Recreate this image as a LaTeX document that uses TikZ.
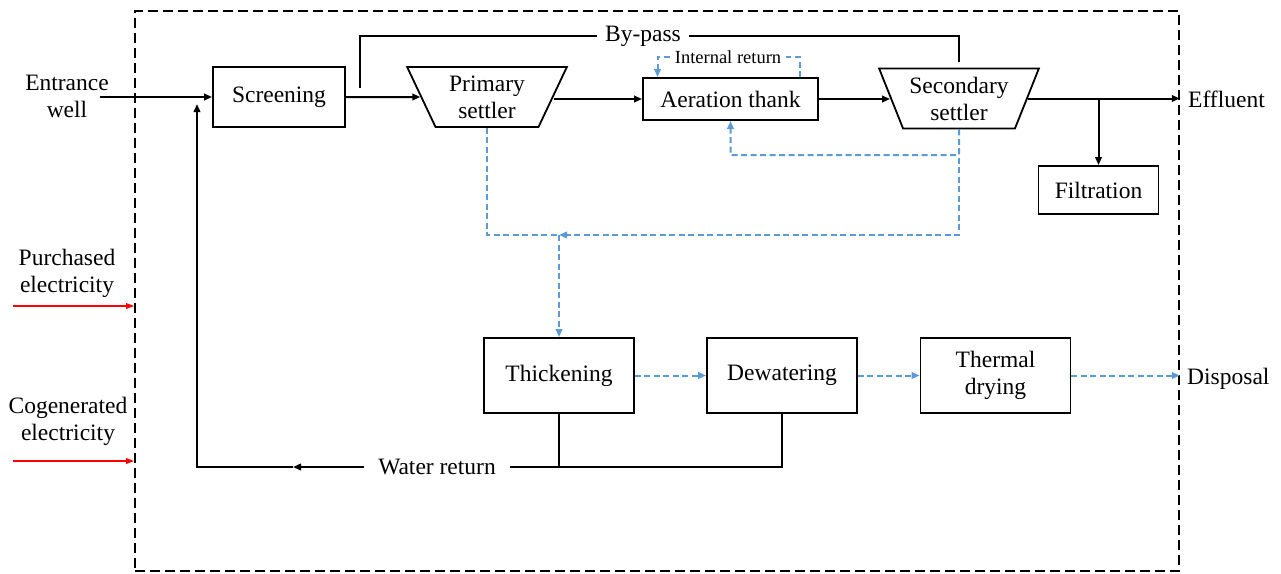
\documentclass[tikz,border=0pt]{standalone}
\usepackage{fontspec}
\setmainfont{Liberation Serif}
\usetikzlibrary{arrows.meta,shapes.geometric}
\definecolor{sludge}{HTML}{5B9BD5}
\begin{document}
\begin{tikzpicture}[x=1pt,y=-1pt,
  font=\fontsize{23.5}{27}\selectfont,
  box/.style={draw,line width=1.8pt,inner sep=2pt,align=center},
  settler/.style={draw,line width=1.8pt,trapezium,trapezium left angle=116,trapezium right angle=116,trapezium stretches=true,minimum width=160pt,minimum height=60pt,align=center,inner sep=0pt},
  lbl/.style={align=center,inner sep=2pt},
  flow/.style={line width=2pt},
  arr/.style={flow,-{Triangle[length=8pt,width=6.5pt]}},
  sl/.style={draw=sludge,line width=2pt,dash pattern=on 6pt off 3.5pt},
  slarr/.style={sl,-{Triangle[length=8pt,width=6.5pt]}},
  elec/.style={red,line width=1.6pt,-{Triangle[length=8pt,width=5.5pt]}},
]
\useasboundingbox (0,0) rectangle (1281,573);

% system boundary
\node[draw,line width=1.6pt,dash pattern=on 10pt off 5pt,minimum width=1044pt,minimum height=560pt,inner sep=0pt] (sys) at (657,291) {};

% nodes
\node[lbl] (entrance) at (67,96) {Entrance\\well};
\coordinate (entout) at (100,97);
\node[box,minimum width=132pt,minimum height=60pt] (screen) at (279,97) {Screening};
\node[settler] (prim) at (487,97) {Primary\\settler};
\node[box,minimum width=175pt,minimum height=42pt] (aer) at (730.5,99) {Aeration thank};
\node[settler] (sec) at (959,98.5) {Secondary\\settler};
\node[box,minimum width=120pt,minimum height=48pt] (filt) at (1098.5,190) {Filtration};
\node[lbl,anchor=west] (eff) at (1186,99) {Effluent};
\node[box,minimum width=150pt,minimum height=75pt] (thick) at (559,375.5) {Thickening};
\node[box,minimum width=150pt,minimum height=75pt] (dew) at (782,375.5) {Dewatering};
\node[box,minimum width=150pt,minimum height=75pt] (therm) at (995.5,375.5) {Thermal\\drying};
\node[lbl,anchor=west] (disp) at (1185,379) {Disposal};
\node[lbl,inner xsep=8pt] (bypass) at (643,36) {By-pass};
\node[lbl,font=\fontsize{18.5}{20}\selectfont,inner xsep=5pt] (intret) at (728,57) {Internal return};
\node[lbl,inner xsep=14pt] (water) at (437,467) {Water return};
\node[lbl] (purch) at (67,273) {Purchased\\electricity};
\node[lbl] (cogen) at (68,421) {Cogenerated\\electricity};

% main water line
\draw[arr] (entout) -- (screen.west |- entout);
\draw[arr] (screen.east) -- (prim.west);
\coordinate (bp) at (360,88);
\draw[line width=1.8pt] (bp) |- (bypass.west);
\draw[line width=1.8pt] (bypass.east) -| ([yshift=6pt]sec.north);
\draw[arr] (prim.east |- aer.west) -- (aer.west);
\draw[arr] (aer.east) -- (aer.east -| sec.west);
\draw[arr] (sec.east) -- (sec.east -| sys.east);
\draw[arr] (filt.north |- sec.east) -- (filt.north);

% internal return
\draw[sl] ([xshift=69pt]aer.north) |- (intret.east);
\draw[slarr] (intret.west) -| ([xshift=-73pt]aer.north);

% sludge lines
\coordinate (rt) at (959,155);
\draw[slarr] (sec.south) -- (rt) -| (aer.south);
\coordinate (sj) at (559,235);
\draw[slarr] (sec.south) |- (sj);
\draw[sl] (prim.south) |- (sj);
\draw[slarr] (sj) -- (thick.north);
\draw[slarr] (thick.east) -- (dew.west);
\draw[slarr] (dew.east) -- (therm.west);
\draw[slarr] (therm.east) -- (therm.east -| sys.east);

% water return
\draw[flow] (dew.south) |- (water.east);
\draw[flow] (thick.south) -- (thick.south |- water.east);
\coordinate (wm) at (293,467);
\coordinate (wc) at (197,467);
\coordinate (wt) at (197,104);
\draw[arr] (water.west) -- (wm);
\draw[arr] (wm) -- (wc) -- (wt);

% electricity
\coordinate (pa) at (13,306);
\draw[elec] (pa) -- (pa -| sys.west);
\coordinate (ca) at (13,461);
\draw[elec] (ca) -- (ca -| sys.west);
\end{tikzpicture}
\end{document}
